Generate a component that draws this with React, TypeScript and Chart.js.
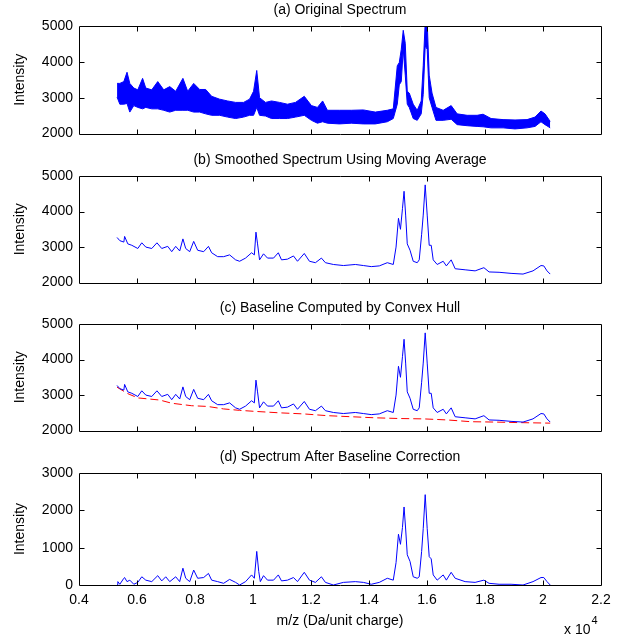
import React, { useEffect, useRef } from "react";
import { Chart, registerables } from "chart.js";

Chart.register(...registerables);

// ---------- data (m/z in Da, intensity) ----------
// (a) original spectrum: noisy band, read as upper / lower envelope
const rawMz = [5312, 5408, 5546, 5656, 5752, 5890, 6028, 6193, 6303, 6509, 6716, 6922, 7129, 7335, 7583, 7748, 7955, 8161, 8368, 8574, 8849, 9125, 9400, 9675, 9882, 10019, 10129, 10226, 10432, 10639, 10914, 11189, 11465, 11768, 12015, 12222, 12401, 12566, 12979, 13392, 13805, 14218, 14631, 14837, 14975, 15044, 15113, 15181, 15250, 15319, 15388, 15525, 15663, 15801, 15870, 15938, 16007, 16076, 16173, 16310, 16558, 16833, 17040, 17384, 17728, 17934, 18210, 18623, 19036, 19449, 19725, 19931, 20069, 20248];
const rawUpper = [3400, 3400, 3450, 3710, 3400, 3270, 3220, 3540, 3270, 3220, 3450, 3220, 3310, 3180, 3540, 3180, 3400, 3230, 3230, 3040, 2960, 2910, 2870, 2870, 2960, 3180, 3760, 3000, 2870, 2910, 2870, 2820, 2870, 3040, 2780, 2730, 2910, 2650, 2650, 2650, 2660, 2600, 2650, 2690, 3890, 3980, 4350, 4880, 4520, 3180, 3130, 2820, 2650, 2910, 3890, 5100, 5100, 3630, 3130, 2730, 2650, 2780, 2550, 2510, 2510, 2540, 2420, 2390, 2380, 2390, 2460, 2630, 2550, 2340];
const rawLower = [3020, 2820, 2820, 2840, 2600, 2780, 2730, 2690, 2730, 2690, 2690, 2650, 2600, 2650, 2650, 2650, 2600, 2600, 2550, 2510, 2510, 2460, 2420, 2460, 2510, 2510, 2730, 2510, 2490, 2420, 2420, 2420, 2460, 2510, 2370, 2290, 2330, 2290, 2270, 2290, 2270, 2270, 2330, 2420, 2820, 3360, 3450, 4350, 3630, 2820, 2730, 2420, 2370, 2550, 3090, 4440, 4350, 3000, 2730, 2370, 2370, 2400, 2250, 2220, 2200, 2190, 2160, 2160, 2130, 2160, 2200, 2330, 2250, 2160];

// (b)/(c) smoothed spectrum (moving average)
const smoothMz = [5312, 5408, 5546, 5573, 5683, 5821, 6028, 6165, 6303, 6509, 6688, 6853, 7060, 7198, 7335, 7473, 7583, 7679, 7817, 7955, 8092, 8299, 8464, 8574, 8781, 8987, 9193, 9400, 9538, 9744, 9951, 10047, 10102, 10157, 10226, 10363, 10501, 10708, 10873, 10983, 11189, 11396, 11534, 11768, 11947, 12153, 12359, 12497, 12772, 13117, 13529, 13805, 14080, 14355, 14631, 14837, 14933, 15016, 15085, 15154, 15209, 15264, 15319, 15415, 15525, 15663, 15732, 15815, 15870, 15938, 16007, 16076, 16145, 16214, 16351, 16558, 16668, 16833, 16971, 17315, 17659, 17962, 18141, 18485, 18898, 19311, 19656, 19931, 20028, 20138, 20248];
const smoothIntensity = [3270, 3180, 3140, 3300, 3090, 3050, 2960, 3120, 3000, 2960, 3120, 2960, 3020, 2870, 3020, 2890, 3230, 2960, 2870, 3160, 2910, 2870, 3020, 2840, 2730, 2730, 2780, 2640, 2600, 2690, 2840, 2780, 3420, 3090, 2640, 2810, 2690, 2690, 2840, 2640, 2660, 2750, 2600, 2820, 2600, 2560, 2690, 2560, 2510, 2480, 2510, 2480, 2450, 2470, 2560, 2510, 3000, 3810, 3500, 4080, 4570, 3900, 3090, 2910, 2600, 2560, 2640, 3360, 3900, 4750, 3900, 3050, 3050, 2640, 2510, 2600, 2470, 2640, 2390, 2360, 2330, 2420, 2300, 2290, 2260, 2240, 2330, 2480, 2470, 2330, 2240];

// (c) baseline computed by convex hull
const baselineMz = [5312, 5683, 6028, 6785, 7198, 7886, 8436, 8987, 9538, 10088, 10914, 11740, 12566, 13392, 14218, 15044, 15870, 16695, 17521, 18347, 19173, 20248];
const baselineIntensity = [3220, 3040, 2920, 2860, 2770, 2700, 2680, 2610, 2570, 2540, 2500, 2470, 2420, 2390, 2360, 2340, 2330, 2300, 2250, 2240, 2225, 2210];

// (d) spectrum after baseline correction
const correctedMz = [5312, 5339, 5408, 5546, 5573, 5656, 5752, 5890, 6028, 6165, 6303, 6509, 6716, 6853, 6991, 7129, 7335, 7473, 7583, 7679, 7817, 7955, 8092, 8299, 8464, 8574, 8781, 8987, 9193, 9400, 9538, 9744, 9951, 10047, 10129, 10198, 10253, 10363, 10501, 10708, 10873, 10983, 11189, 11396, 11534, 11768, 11947, 12153, 12359, 12497, 12772, 13117, 13529, 13805, 14080, 14355, 14631, 14837, 14933, 15016, 15085, 15154, 15209, 15264, 15319, 15415, 15525, 15663, 15732, 15815, 15870, 15938, 16007, 16076, 16145, 16214, 16351, 16558, 16668, 16833, 16971, 17315, 17659, 17962, 18141, 18485, 18898, 19311, 19656, 19931, 20028, 20138, 20248];
const correctedIntensity = [10, 90, 20, 180, 200, 90, 130, 20, 70, 220, 130, 90, 250, 110, 220, 90, 220, 90, 450, 180, 90, 400, 180, 200, 310, 130, 90, 45, 150, 70, 0, 90, 270, 180, 900, 360, 90, 250, 130, 130, 270, 110, 130, 200, 90, 340, 130, 70, 220, 70, 0, 70, 90, 70, 20, 70, 180, 130, 600, 1360, 1090, 1540, 2090, 1500, 810, 630, 220, 180, 220, 900, 1510, 2420, 1510, 760, 700, 270, 130, 270, 130, 340, 180, 90, 70, 130, 45, 20, 20, 0, 90, 200, 200, 90, 0];

const xTickMin = 4000;
const xTickMax = 22000;
const xTickStep = 2000;
const xScaleExponent = 4;

const titles = [
  "(a) Original Spectrum",
  "(b) Smoothed Spectrum Using Moving Average",
  "(c) Baseline Computed by Convex Hull",
  "(d) Spectrum After Baseline Correction",
];
const yLabel = "Intensity";
const xLabel = "m/z (Da/unit charge)";

// ---------- styling ----------
const FONT_FAMILY = "'Liberation Sans', Arial, Helvetica, sans-serif";
const FONT_SIZE = 14;
const BLUE = "#0000ff";
const RED = "#ff0000";
const FIG_W = 624;
const FIG_H = 639;
const AXIS_LEFT = 79;
const AXIS_RIGHT = 601;
const TITLE_SPACE = 26;
const TICK_LEN = 5;

const pts = (xs: number[], ys: number[]) => xs.map((x, i) => ({ x, y: ys[i] }));

const framePlugin = {
  id: "matlabFrame",
  afterDraw(chart: any, _args: any, opts: any) {
    const { ctx, chartArea } = chart;
    const xs = chart.scales.x;
    const ys = chart.scales.y;
    const L = Math.round(chartArea.left) + 0.5;
    const R = Math.round(chartArea.right) + 0.5;
    const T = Math.round(chartArea.top) + 0.5;
    const B = Math.round(chartArea.bottom) + 0.5;
    ctx.save();
    ctx.strokeStyle = "#000";
    ctx.lineWidth = 1;
    ctx.beginPath();
    ctx.rect(L, T, R - L, B - T);
    xs.ticks.forEach((t: any) => {
      if (t.value <= xs.min || t.value >= xs.max) return;
      const px = Math.round(xs.getPixelForValue(t.value)) + 0.5;
      ctx.moveTo(px, B);
      ctx.lineTo(px, B - TICK_LEN);
      ctx.moveTo(px, T);
      ctx.lineTo(px, T + TICK_LEN);
    });
    ys.ticks.forEach((t: any) => {
      if (t.value <= ys.min || t.value >= ys.max) return;
      const py = Math.round(ys.getPixelForValue(t.value)) + 0.5;
      ctx.moveTo(L, py);
      ctx.lineTo(L + TICK_LEN, py);
      ctx.moveTo(R, py);
      ctx.lineTo(R - TICK_LEN, py);
    });
    ctx.stroke();
    if (opts && opts.exponent) {
      ctx.fillStyle = "#000";
      ctx.textBaseline = "middle";
      ctx.textAlign = "left";
      ctx.font = `${FONT_SIZE}px ${FONT_FAMILY}`;
      const base = "x 10";
      const bx = 564;
      const by = chart.height - 9;
      ctx.fillText(base, bx, by);
      const w = ctx.measureText(base).width;
      ctx.font = `${Math.round(FONT_SIZE * 0.75)}px ${FONT_FAMILY}`;
      ctx.fillText(String(xScaleExponent), bx + w + 1, by - 9);
    }
    ctx.restore();
  },
};

type PanelSpec = {
  title: string;
  axesTop: number;
  axesBottom: number;
  yMin: number;
  yMax: number;
  showX: boolean;
  datasets: any[];
};

const lineDs = (data: any[], color: string, extra: any = {}) => ({
  data,
  borderColor: color,
  backgroundColor: color,
  borderWidth: 1,
  pointRadius: 0,
  tension: 0,
  fill: false,
  ...extra,
});

const panels: PanelSpec[] = [
  {
    title: titles[0],
    axesTop: 26,
    axesBottom: 138,
    yMin: 2000,
    yMax: 5000,
    showX: false,
    datasets: [
      lineDs(pts(rawMz, rawUpper), BLUE),
      lineDs(pts(rawMz, rawLower), BLUE, { fill: "-1" }),
    ],
  },
  {
    title: titles[1],
    axesTop: 176,
    axesBottom: 287,
    yMin: 2000,
    yMax: 5000,
    showX: false,
    datasets: [lineDs(pts(smoothMz, smoothIntensity), BLUE)],
  },
  {
    title: titles[2],
    axesTop: 324,
    axesBottom: 435,
    yMin: 2000,
    yMax: 5000,
    showX: false,
    datasets: [
      lineDs(pts(smoothMz, smoothIntensity), BLUE),
      lineDs(pts(baselineMz, baselineIntensity), RED, { borderDash: [8, 4] }),
    ],
  },
  {
    title: titles[3],
    axesTop: 473,
    axesBottom: 585,
    yMin: 0,
    yMax: 3000,
    showX: true,
    datasets: [lineDs(pts(correctedMz, correctedIntensity), BLUE)],
  },
];

function Panel({ spec }: { spec: PanelSpec }) {
  const ref = useRef<HTMLCanvasElement>(null);
  const canvasTop = spec.axesTop - TITLE_SPACE;
  const bottomSpace = spec.showX ? FIG_H - spec.axesBottom : 10;
  const height = spec.axesBottom - canvasTop + bottomSpace;

  useEffect(() => {
    if (!ref.current) return;
    const font = { family: FONT_FAMILY, size: FONT_SIZE, weight: "normal" as const };
    const chart = new Chart(ref.current, {
      type: "line",
      data: { datasets: spec.datasets },
      options: {
        animation: false,
        responsive: false,
        devicePixelRatio: 1,
        layout: { padding: { left: 0, right: FIG_W - AXIS_RIGHT, top: 0, bottom: 0 } },
        plugins: {
          legend: { display: false },
          tooltip: { enabled: false },
          title: {
            display: true,
            fullSize: false,
            text: spec.title,
            color: "#000",
            font,
            padding: { top: 2, bottom: TITLE_SPACE - 2 - FONT_SIZE * 1.2 },
          },
          matlabFrame: { exponent: spec.showX },
        } as any,
        scales: {
          x: {
            type: "linear",
            min: xTickMin,
            max: xTickMax,
            afterFit: (s: any) => {
              s.height = bottomSpace;
            },
            grid: { display: false, drawTicks: false },
            border: { display: false },
            ticks: {
              display: spec.showX,
              stepSize: xTickStep,
              autoSkip: false,
              maxRotation: 0,
              padding: 7,
              color: "#000",
              font,
              callback: (v: any) => String(Number(v) / Math.pow(10, xScaleExponent)),
            },
            title: {
              display: spec.showX,
              text: xLabel,
              color: "#000",
              font,
              padding: { top: 0, bottom: 9.6 },
            },
          },
          y: {
            type: "linear",
            min: spec.yMin,
            max: spec.yMax,
            afterFit: (s: any) => {
              s.width = AXIS_LEFT;
            },
            grid: { display: false, drawTicks: false },
            border: { display: false },
            ticks: {
              stepSize: 1000,
              padding: 6,
              color: "#000",
              font,
              callback: (v: any) => String(v),
            },
            title: {
              display: true,
              text: yLabel,
              color: "#000",
              font,
              padding: { top: 12, bottom: 0 },
            },
          },
        },
      },
      plugins: [framePlugin],
    });
    return () => chart.destroy();
  }, []);

  return (
    <canvas
      ref={ref}
      width={FIG_W}
      height={height}
      style={{ position: "absolute", left: 0, top: canvasTop, width: FIG_W, height }}
    />
  );
}

export default function App() {
  return (
    <div
      style={{
        position: "absolute",
        left: 0,
        top: 0,
        width: FIG_W,
        height: FIG_H,
        background: "#fff",
        overflow: "hidden",
      }}
    >
      {panels.map((p, i) => (
        <Panel key={i} spec={p} />
      ))}
    </div>
  );
}
